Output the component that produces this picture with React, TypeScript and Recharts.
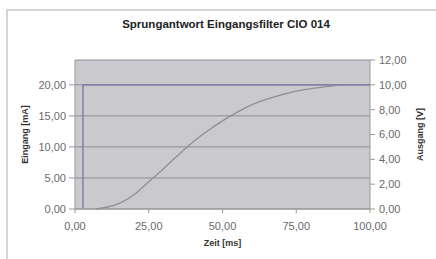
import { LineChart, Line, XAxis, YAxis, CartesianGrid } from "recharts";

const TITLE = "Sprungantwort Eingangsfilter CIO 014";

// Eingang (input step, mA)
const inTime = [2.7, 2.7, 100];
const inCurrent = [0, 20, 20];

// Ausgang (filter output, V)
const outTime = [7, 10, 15, 20, 25, 30, 35, 40, 45, 50, 55, 60, 65, 70, 75, 80, 85, 90];
const outVoltage = [0, 0.1, 0.45, 1.15, 2.2, 3.25, 4.35, 5.4, 6.3, 7.1, 7.8, 8.4, 8.85, 9.2, 9.5, 9.7, 9.85, 10.0];

const xTicks = [0, 25, 50, 75, 100];
const leftTicks = [0, 5, 10, 15, 20];
const rightTicks = [0, 2, 4, 6, 8, 10, 12];

const inData = inTime.map((t, i) => ({ t, mA: inCurrent[i] }));
const outData = outTime.map((t, i) => ({ t, v: outVoltage[i] }));

const fmt = (v: number) => v.toFixed(2).replace(".", ",");

const FONT = "'Liberation Sans', Arial, sans-serif";
const tickStyle = { fontSize: 11, fill: "#6a6a6a", fontFamily: FONT };

function AxisTitle({ viewBox, text, x, angle }: any) {
  const cy = viewBox.y + viewBox.height / 2;
  return (
    <text
      x={x}
      y={cy}
      transform={`rotate(${angle}, ${x}, ${cy})`}
      textAnchor="middle"
      dominantBaseline="central"
      style={{ fontSize: 9, fontWeight: 700, fill: "#333", fontFamily: FONT }}
    >
      {text}
    </text>
  );
}

export default function App() {
  return (
    <div
      style={{
        position: "fixed",
        left: 0,
        top: 0,
        width: 436,
        height: 259,
        overflow: "hidden",
        background: "#fff",
      }}
    >
      <div
        style={{
          position: "absolute",
          left: 6,
          top: 9,
          width: 470,
          height: 290,
          border: "2px solid #d4d4d4",
        }}
      />
      <div
        style={{
          position: "absolute",
          left: 0,
          top: 18,
          width: 452,
          textAlign: "center",
          fontFamily: FONT,
          fontWeight: 700,
          fontSize: 11.5,
          color: "#222",
        }}
      >
        {TITLE}
      </div>
      <div style={{ position: "absolute", left: 0, top: 0 }}>
        <LineChart width={436} height={259} margin={{ top: 60, right: 0, bottom: 0, left: 0 }}>
          <CartesianGrid
            yAxisId="left"
            vertical={false}
            horizontal
            stroke="#8c8c94"
            fill="#cacace"
            fillOpacity={1}
          />
          <XAxis
            dataKey="t"
            type="number"
            domain={[0, 100]}
            ticks={xTicks}
            tickFormatter={fmt}
            height={50}
            tick={tickStyle}
            tickSize={4}
            tickMargin={9}
            stroke="#999"
            allowDuplicatedCategory={false}
            label={{ value: "Zeit [ms]", position: "insideBottom", offset: 13, style: { fontSize: 9, fontWeight: 700, fill: "#333", fontFamily: FONT } }}
          />
          <YAxis
            yAxisId="left"
            type="number"
            domain={[0, 24]}
            ticks={leftTicks}
            tickFormatter={fmt}
            width={75}
            tick={tickStyle}
            tickSize={6}
            tickMargin={3}
            stroke="#999"
            label={(p: any) => <AxisTitle viewBox={p.viewBox} text="Eingang [mA]" x={25} angle={-90} />}
          />
          <YAxis
            yAxisId="right"
            orientation="right"
            type="number"
            domain={[0, 12]}
            ticks={rightTicks}
            tickFormatter={fmt}
            width={66}
            tick={tickStyle}
            tickSize={5}
            tickMargin={4}
            stroke="#999"
            label={(p: any) => <AxisTitle viewBox={p.viewBox} text="Ausgang [V]" x={420} angle={-90} />}
          />
          <Line
            yAxisId="left"
            data={inData}
            dataKey="mA"
            type="linear"
            stroke="#7676a8"
            strokeWidth={1.3}
            dot={false}
            isAnimationActive={false}
          />
          <Line
            yAxisId="right"
            data={outData}
            dataKey="v"
            type="monotone"
            stroke="#8e8e98"
            strokeWidth={1.3}
            dot={false}
            isAnimationActive={false}
          />
        </LineChart>
      </div>
    </div>
  );
}
